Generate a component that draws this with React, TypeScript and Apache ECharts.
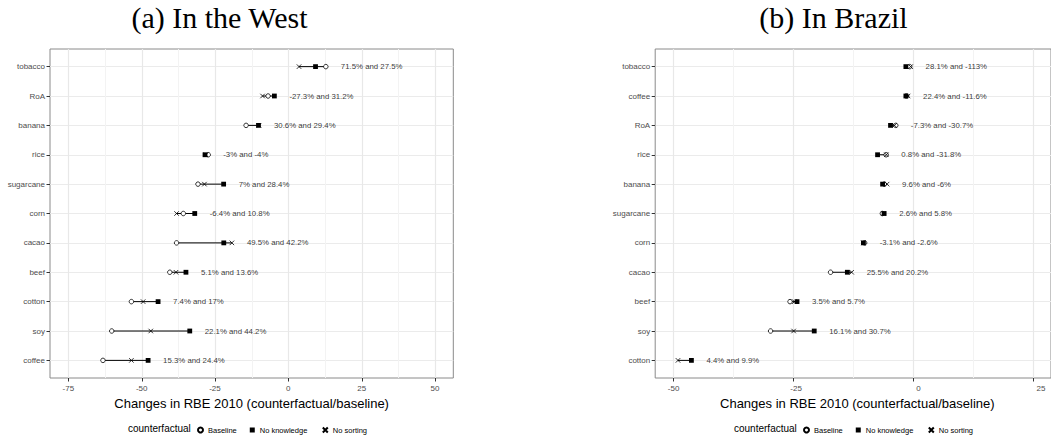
import React, { useEffect, useRef } from "react";
import * as echarts from "echarts";

// ---- Data: (a) In the West ----
const westCats = ["tobacco", "RoA", "banana", "rice", "sugarcane", "corn", "cacao", "beef", "cotton", "soy", "coffee"];
const westBaseline = [12.8, -6.9, -14.4, -27.3, -30.8, -35.8, -38.1, -40.4, -53.5, -60.2, -63.2];
const westNoKnowledge = [9.28, -4.75, -10.17, -28.4, -22.05, -31.9, -22.0, -34.9, -44.4, -33.6, -47.8];
const westNoSorting = [3.65, -8.78, -9.99, -28.1, -28.6, -38.1, -19.24, -38.3, -49.5, -46.9, -53.5];
const westLabels = [
  "71.5% and 27.5%", "-27.3% and 31.2%", "30.6% and 29.4%", "-3% and -4%", "7% and 28.4%",
  "-6.4% and 10.8%", "49.5% and 42.2%", "5.1% and 13.6%", "7.4% and 17%", "22.1% and 44.2%", "15.3% and 24.4%",
];
const westTicks = [-75, 50];

// ---- Data: (b) In Brazil ----
const brazilCats = ["tobacco", "coffee", "RoA", "rice", "banana", "sugarcane", "corn", "cacao", "beef", "soy", "cotton"];
const brazilBaseline = [-0.7, -1.34, -3.6, -5.61, -5.99, -6.4, -10.09, -17.2, -25.65, -29.7, null];
const brazilNoKnowledge = [-1.5, -1.5, -4.7, -7.4, -6.35, -6.03, -10.35, -13.7, -24.19, -20.6, -46.2];
const brazilNoSorting = [-0.51, -1.04, -3.86, -5.57, -5.42, -6.23, -10.4, -12.8, -24.75, -24.9, -49.0];
const brazilLabels = [
  "28.1% and -113%", "22.4% and -11.6%", "-7.3% and -30.7%", "0.8% and -31.8%", "9.6% and -6%",
  "2.6% and 5.8%", "-3.1% and -2.6%", "25.5% and 20.2%", "3.5% and 5.7%", "16.1% and 30.7%", "4.4% and 9.9%",
];
const brazilTicks = [-50, 25];

const titles = ["(a) In the West", "(b) In Brazil"];
const xTitle = "Changes in RBE 2010 (counterfactual/baseline)";
const seriesNames = ["Baseline", "No knowledge", "No sorting"];
const TICK_STEP = 25;

const FONT = '"Liberation Sans", Arial, Helvetica, sans-serif';
const XSYM = "path://M0,0L10,10M10,0L0,10";

type Panel = {
  cats: string[];
  base: (number | null)[];
  nk: (number | null)[];
  ns: (number | null)[];
  labels: string[];
  ticks: number[];
  frameLeft: number;
  frameWidth: number;
};

function buildPanel(p: Panel, k: number, opt: any) {
  const range = p.ticks[1] - p.ticks[0];
  const dMin = p.ticks[0] - range * 0.05;
  const dMax = p.ticks[1] + range * 0.05;
  const scale = p.frameWidth / (dMax - dMin);
  const tickLeft = p.frameLeft + (p.ticks[0] - dMin) * scale;
  const tickWidth = range * scale;
  const top = 49;
  const height = 329;
  const n = p.cats.length;
  const step = height / (n - 1 + 1.2);
  const pad = step * 0.6;
  const g0 = k * 3;

  opt.grid.push(
    { left: p.frameLeft, top, width: p.frameWidth, height, show: true, borderColor: "#8a8a8a", borderWidth: 1, backgroundColor: "transparent" },
    { left: tickLeft, top, width: tickWidth, height },
    { left: p.frameLeft, top: top + pad, width: p.frameWidth, height: step * (n - 1) }
  );
  opt.xAxis.push(
    { gridIndex: g0, type: "value", show: false, min: 0, max: 1 },
    {
      gridIndex: g0 + 1, type: "value", min: p.ticks[0], max: p.ticks[1], interval: TICK_STEP,
      axisLine: { show: false, onZero: false },
      axisTick: { show: false },
      axisLabel: { fontSize: 8, color: "#4d4d4d", margin: 6, fontFamily: FONT },
      splitLine: { show: false },
      name: xTitle, nameLocation: "middle", nameGap: 11,
      nameTextStyle: { fontSize: 13, color: "#000", fontFamily: FONT },
    },
    { gridIndex: g0 + 2, type: "value", min: dMin, max: dMax, show: false }
  );
  opt.yAxis.push(
    { gridIndex: g0, type: "value", show: false, min: 0, max: 1 },
    { gridIndex: g0 + 1, type: "value", show: false, min: 0, max: 1, splitLine: { show: false } },
    {
      gridIndex: g0 + 2, type: "category", data: p.cats, inverse: true, boundaryGap: false,
      axisLine: { show: false, onZero: false },
      axisTick: { show: true, length: 3.5, interval: 0, lineStyle: { color: "#333", width: 1 } },
      axisLabel: { fontSize: 8, color: "#4d4d4d", margin: 5, interval: 0, fontFamily: FONT },
      splitLine: { show: true, interval: 0, lineStyle: { color: "#ebebeb", width: 1.2 } },
    }
  );

  const ax = { xAxisIndex: g0 + 2, yAxisIndex: g0 + 2 };

  // vertical grid lines + x ticks (major at tick values, minor half-way)
  const vlines: number[][] = [];
  for (let v = p.ticks[0]; v <= p.ticks[1] + 1e-9; v += TICK_STEP / 2) {
    vlines.push([v, 0, Math.abs(((v - p.ticks[0]) / TICK_STEP) % 1) < 1e-9 ? 1 : 0]);
  }
  opt.series.push({
    type: "custom", ...ax, silent: true, z: 0, clip: false,
    encode: { x: 0, y: 1 },
    data: vlines,
    renderItem: (params: any, api: any) => {
      const a = api.coord([api.value(0), 0]);
      const cs = params.coordSys;
      const major = api.value(2) === 1;
      const x = Math.round(a[0]) + 0.5;
      const y1 = cs.y - pad;
      const y2 = cs.y + cs.height + pad;
      const children: any[] = [
        {
          type: "line",
          shape: { x1: x, y1, x2: x, y2 },
          style: { stroke: major ? "#e8e8e8" : "#f3f3f3", lineWidth: major ? 1.2 : 1 },
        },
      ];
      if (major) {
        children.push({
          type: "line",
          shape: { x1: x, y1: y2, x2: x, y2: y2 + 3.5 },
          style: { stroke: "#333", lineWidth: 1 },
        });
      }
      return { type: "group", children };
    },
  });

  const vals = p.cats.map((_, i) => [p.base[i], p.nk[i], p.ns[i]].filter((v) => v !== null) as number[]);
  const segs = vals.map((v, i) => [Math.min(...v), Math.max(...v), i]);

  opt.series.push({
    type: "custom", ...ax, silent: true, z: 2,
    encode: { x: [0, 1], y: 2 },
    data: segs,
    renderItem: (params: any, api: any) => {
      const a = api.coord([api.value(0), api.value(2)]);
      const b = api.coord([api.value(1), api.value(2)]);
      return { type: "line", shape: { x1: a[0], y1: a[1], x2: b[0], y2: b[1] }, style: { stroke: "#000", lineWidth: 1 } };
    },
  });
  const pts = (arr: (number | null)[]) =>
    arr.map((v, i) => (v === null ? null : [v, i])).filter((d) => d !== null);
  opt.series.push(
    {
      name: seriesNames[0], type: "scatter", ...ax, z: 3, symbol: "circle", symbolSize: 4.5,
      itemStyle: { color: "#fff", borderColor: "#000", borderWidth: 0.8, opacity: 1 },
      data: pts(p.base),
    },
    {
      name: seriesNames[1], type: "scatter", ...ax, z: 4, symbol: "rect", symbolSize: 4.8,
      itemStyle: { color: "#000", opacity: 1 },
      data: pts(p.nk),
    },
    {
      name: seriesNames[2], type: "scatter", ...ax, z: 5, symbol: XSYM, symbolSize: 4.5,
      itemStyle: { color: "none", borderColor: "#000", borderWidth: 0.8, opacity: 1 },
      data: pts(p.ns),
    },
    {
      type: "scatter", ...ax, z: 6, symbolSize: 0, silent: true,
      data: segs.map((s, i) => ({ value: [s[1], i], label: { formatter: p.labels[i] } })),
      label: { show: true, position: "right", distance: 15, fontSize: 7.8, color: "#000", fontFamily: FONT },
    }
  );
}

export default function App() {
  const ref = useRef<HTMLDivElement>(null);
  useEffect(() => {
    if (!ref.current) return;
    const chart = echarts.init(ref.current, null, { renderer: "svg" });
    const opt: any = {
      animation: false,
      backgroundColor: "#fff",
      grid: [], xAxis: [], yAxis: [], series: [],
      legend: [],
      graphic: [],
    };
    buildPanel(
      { cats: westCats, base: westBaseline, nk: westNoKnowledge, ns: westNoSorting, labels: westLabels, ticks: westTicks, frameLeft: 50, frameWidth: 403.3 },
      0, opt
    );
    buildPanel(
      { cats: brazilCats, base: brazilBaseline, nk: brazilNoKnowledge, ns: brazilNoSorting, labels: brazilLabels, ticks: brazilTicks, frameLeft: 655.2, frameWidth: 404.25 },
      1, opt
    );
    const legendLefts = [197, 803];
    const titleX = [219.5, 833.5];
    [0, 1].forEach((k) => {
      opt.legend.push({
        left: legendLefts[k], top: 425, padding: 0, itemWidth: 5, itemHeight: 5, itemGap: 13,
        data: seriesNames, selectedMode: false,
        textStyle: { fontSize: 7.5, color: "#000", fontFamily: FONT },
      });
      opt.graphic.push(
        {
          type: "text", x: legendLefts[k] - 69, y: 428,
          style: { text: "counterfactual", fontSize: 10, fontFamily: FONT, fill: "#000", textVerticalAlign: "middle" },
        },
        {
          type: "text", x: titleX[k], y: 17,
          style: { text: titles[k], fontSize: 30, fontFamily: '"Liberation Serif", "Times New Roman", serif', fill: "#000", textAlign: "center", textVerticalAlign: "middle" },
        }
      );
    });
    chart.setOption(opt);
    return () => chart.dispose();
  }, []);
  return <div ref={ref} style={{ position: "absolute", left: 0, top: 0, width: 1051, height: 442 }} />;
}
